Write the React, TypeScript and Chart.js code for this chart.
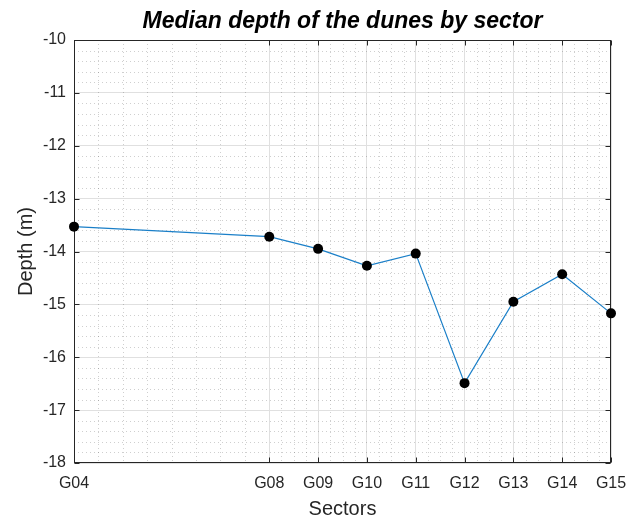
import React, { useEffect, useRef } from "react";
import { Chart, registerables } from "chart.js";

Chart.register(...registerables);

// Sector names and their along-shore position index
const sectorNames = ["G04", "G08", "G09", "G10", "G11", "G12", "G13", "G14", "G15"];
const sectorIndex = [4, 8, 9, 10, 11, 12, 13, 14, 15];
// Median dune depth per sector (m)
const medianDepth = [-13.53, -13.72, -13.95, -14.27, -14.04, -16.49, -14.95, -14.43, -15.17];

const yTicks = [-18, -17, -16, -15, -14, -13, -12, -11, -10];

const FONT = "'Liberation Sans', Arial, Helvetica, sans-serif";
const AXIS_COLOR = "#262626";

// Dotted minor grid, inside tick marks and the full axes box
const axesDecor = {
  id: "axesDecor",
  beforeDatasetsDraw(chart: any) {
    const { ctx, chartArea: a, scales } = chart;
    const xs = scales.x;
    const ys = scales.y;
    ctx.save();
    ctx.strokeStyle = "rgba(38,38,38,0.22)";
    ctx.lineWidth = 1;
    ctx.setLineDash([1, 3]);
    // minor x positions between major ticks
    for (let i = 0; i < sectorIndex.length - 1; i++) {
      const lo = sectorIndex[i];
      const hi = sectorIndex[i + 1];
      const step = hi - lo >= 2 ? 0.5 : 0.25;
      for (let v = lo + step; v < hi - 1e-9; v += step) {
        const px = Math.round(xs.getPixelForValue(v)) + 0.5;
        ctx.beginPath();
        ctx.moveTo(px, a.top);
        ctx.lineTo(px, a.bottom);
        ctx.stroke();
      }
    }
    // minor y positions every 0.2 m
    for (let i = 0; i < yTicks.length - 1; i++) {
      for (let k = 1; k < 5; k++) {
        const v = yTicks[i] + k * 0.2;
        const py = Math.round(ys.getPixelForValue(v)) + 0.5;
        ctx.beginPath();
        ctx.moveTo(a.left, py);
        ctx.lineTo(a.right, py);
        ctx.stroke();
      }
    }
    ctx.setLineDash([]);

    // box
    ctx.strokeStyle = AXIS_COLOR;
    ctx.lineWidth = 1;
    const L = Math.round(a.left) + 0.5;
    const R = Math.round(a.right) - 0.5;
    const T = Math.round(a.top) + 0.5;
    const B = Math.round(a.bottom) - 0.5;
    ctx.strokeRect(L, T, R - L, B - T);

    // inside tick marks on all four sides
    const tl = 5;
    ctx.beginPath();
    sectorIndex.forEach((v) => {
      const px = Math.round(xs.getPixelForValue(v)) + 0.5;
      ctx.moveTo(px, B);
      ctx.lineTo(px, B - tl);
      ctx.moveTo(px, T);
      ctx.lineTo(px, T + tl);
    });
    yTicks.forEach((v) => {
      const py = Math.round(ys.getPixelForValue(v)) + 0.5;
      ctx.moveTo(L, py);
      ctx.lineTo(L + tl, py);
      ctx.moveTo(R, py);
      ctx.lineTo(R - tl, py);
    });
    ctx.stroke();
    ctx.restore();
  },
  afterDraw(chart: any) {
    const { ctx, chartArea: a } = chart;
    const cx = (a.left + a.right) / 2;
    const cy = (a.top + a.bottom) / 2;
    ctx.save();
    ctx.fillStyle = "#000000";
    ctx.textAlign = "center";
    ctx.textBaseline = "alphabetic";
    ctx.font = `italic bold 23px ${FONT}`;
    ctx.fillText("Median depth of the dunes by sector", cx, 28);

    ctx.fillStyle = AXIS_COLOR;
    ctx.font = `20px ${FONT}`;
    ctx.fillText("Sectors", cx, 515);

    ctx.translate(32, cy);
    ctx.rotate(-Math.PI / 2);
    ctx.fillText("Depth (m)", 0, 0);
    ctx.restore();
  },
};

export default function App() {
  const canvasRef = useRef<HTMLCanvasElement | null>(null);

  useEffect(() => {
    document.body.style.margin = "0";
    const canvas = canvasRef.current;
    if (!canvas) return;

    const points = sectorIndex.map((x, i) => ({ x, y: medianDepth[i] }));

    const chart = new Chart(canvas, {
      type: "line",
      data: {
        datasets: [
          {
            data: points,
            borderColor: "#1a7fc8",
            borderWidth: 1.2,
            pointRadius: 5,
            pointHoverRadius: 5,
            pointBackgroundColor: "#000000",
            pointBorderColor: "#000000",
            pointBorderWidth: 0,
            tension: 0,
            clip: false as any,
          },
        ],
      },
      options: {
        responsive: false,
        animation: false,
        events: [],
        layout: { padding: { left: 0, top: 40, right: 16, bottom: 0 } },
        plugins: {
          legend: { display: false },
          title: { display: false },
          tooltip: { enabled: false },
        },
        scales: {
          x: {
            type: "linear",
            min: 4,
            max: 15,
            afterBuildTicks(scale: any) {
              scale.ticks = sectorIndex.map((v) => ({ value: v }));
            },
            afterFit(scale: any) {
              scale.height = 55;
              scale.paddingLeft = 0;
              scale.paddingRight = 0;
            },
            ticks: {
              autoSkip: false,
              maxRotation: 0,
              padding: 11,
              color: AXIS_COLOR,
              font: { family: FONT, size: 16 },
              callback(value: any) {
                const i = sectorIndex.indexOf(Number(value));
                return i >= 0 ? sectorNames[i] : "";
              },
            },
            grid: { color: "#e0e0e0", lineWidth: 1, drawTicks: false },
            border: { display: false },
          },
          y: {
            type: "linear",
            min: -18,
            max: -10,
            afterBuildTicks(scale: any) {
              scale.ticks = yTicks.map((v) => ({ value: v }));
            },
            afterFit(scale: any) {
              scale.width = 74;
              scale.paddingTop = 0;
              scale.paddingBottom = 0;
            },
            ticks: {
              padding: 8,
              color: AXIS_COLOR,
              font: { family: FONT, size: 16 },
            },
            grid: { color: "#e0e0e0", lineWidth: 1, drawTicks: false },
            border: { display: false },
          },
        },
      },
      plugins: [axesDecor],
    });

    return () => chart.destroy();
  }, []);

  return (
    <div style={{ width: 627, height: 518, background: "#ffffff" }}>
      <canvas ref={canvasRef} width={627} height={518} style={{ display: "block" }} />
    </div>
  );
}
